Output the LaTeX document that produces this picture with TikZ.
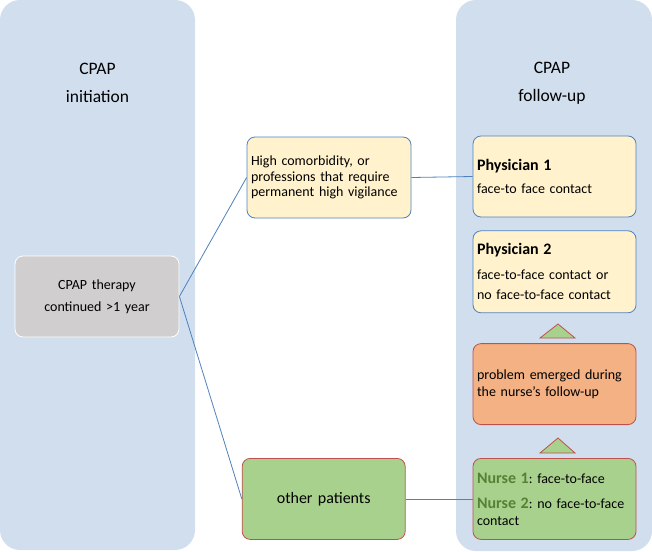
\documentclass[tikz,border=0pt]{standalone}
\usepackage{fontspec}
\setmainfont{Carlito}
\usetikzlibrary{positioning}
\frenchspacing

\definecolor{panelblue}{RGB}{209,222,238}
\definecolor{linkblue}{RGB}{79,129,189}
\definecolor{boxyellow}{RGB}{255,242,204}
\definecolor{boxgreen}{RGB}{169,209,142}
\definecolor{boxorange}{RGB}{244,177,131}
\definecolor{boxred}{RGB}{192,80,77}
\definecolor{boxgrey}{RGB}{208,206,206}
\definecolor{nursegreen}{RGB}{84,130,53}

\tikzstyle{panel} = [fill=panelblue, rounded corners=20pt]
\tikzstyle{paneltitle} = [align=center, font=\fontsize{17.5}{28}\selectfont]
\tikzstyle{basebox} = [rectangle, rounded corners=8pt, line width=0.8pt, minimum height=81pt, inner xsep=4pt, text width=155pt, font=\fontsize{14}{17}\selectfont]
\tikzstyle{greybox} = [basebox, fill=boxgrey, draw=white, align=center, font=\fontsize{14}{22}\selectfont]
\tikzstyle{yellowbox} = [basebox, fill=boxyellow, draw=linkblue, align=left]
\tikzstyle{orangebox} = [basebox, fill=boxorange, draw=boxred, align=left]
\tikzstyle{greenbox} = [basebox, fill=boxgreen, draw=boxred, align=left]
\tikzstyle{link} = [draw=linkblue, line width=0.8pt]
\tikzstyle{uptri} = [fill=boxgreen, draw=boxred, line width=0.8pt]

\newcommand{\boxhead}[1]{{\fontsize{16}{17}\selectfont\bfseries #1}}
\newcommand{\nursehead}[1]{{\fontsize{16}{17}\selectfont\bfseries\color{nursegreen}#1}}

\begin{document}
\begin{tikzpicture}[x=1pt, y=-1pt]
	\useasboundingbox (0,0) rectangle (652,551);
	% the two phases
	\fill[panel] (0,0) rectangle (195,550);
	\fill[panel] (456,0) rectangle (652,551);
	\node[paneltitle] (initT) at (97.5,83) {CPAP\\initiation};
	\node[paneltitle] (followT) at (552,83) {CPAP\\follow-up};

	\node[greybox, text width=156pt] (therapy) at (97,296.5) {CPAP therapy\\continued >1 year};
	\node[yellowbox, text width=156pt, font=\fontsize{14}{15.5}\selectfont] (comorb) at (329,177.5) {High comorbidity, or\\professions that require\\permanent high vigilance};

	\node[yellowbox] (phys1) at (554.5,176.5) {\boxhead{Physician 1}\\[6pt]face-to face contact};
	\node[yellowbox, below=13pt of phys1, minimum height=82pt] (phys2) {\boxhead{Physician 2}\\[8pt]face-to-face contact or\\[3pt]no face-to-face contact};
	\node[orangebox, below=30pt of phys2] (problem) {problem emerged during\\the nurse’s follow-up};
	\node[greenbox, below=33pt of problem] (nurse) {\nursehead{Nurse 1}: face-to-face\\[8pt]\nursehead{Nurse 2}: no face-to-face\\contact};
	\node[greenbox, align=center, font=\fontsize{16}{19}\selectfont, left=67pt of nurse] (others) {other patients};

	% escalation arrows
	\draw[uptri] (540,338) -- (558,324) -- (575,338) -- cycle;
	\draw[uptri] (540,453) -- (558,438) -- (575,453) -- cycle;

	\draw[link] (therapy.east) -- (comorb.west);
	\draw[link] (therapy.east) -- (others.west);
	\draw[link] (comorb.east) -- (phys1.west);
	\draw[link] (others.east) -- (nurse.west);
\end{tikzpicture}
\end{document}
